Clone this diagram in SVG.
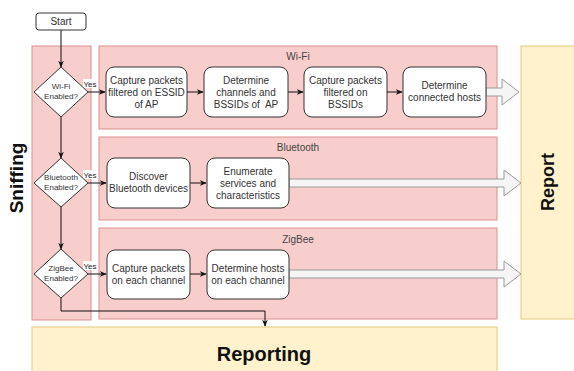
<svg xmlns="http://www.w3.org/2000/svg" width="574" height="371" viewBox="0 0 574 371">
  <style>
    text { font-family: "Liberation Sans", Arial, sans-serif; fill: #333; }
    .lane { fill: #f8cecc; stroke: #d98f8c; stroke-width: 1; }
    .yellow { fill: #fff2cc; stroke: #e6c979; stroke-width: 1; }
    .box { fill: #fff; stroke: #333; stroke-width: 1; }
    .box-text { font-size: 10px; text-anchor: middle; white-space: pre; }
    .dec { fill: #fff; stroke: #333; stroke-width: 1; }
    .dec-text { font-size: 8px; text-anchor: middle; }
    .lane-title { font-size: 10px; text-anchor: middle; fill: #444; }
    .big { font-weight: bold; fill: #111; text-anchor: middle; }
    .flow { fill: none; stroke: #111; stroke-width: 1; marker-end: url(#arrow); }
    .fat { fill: #f5f5f5; stroke: #999; stroke-width: 1; }
    .yes { font-size: 8px; text-anchor: middle; fill: #222; }
  </style>
  <defs>
    <marker id="arrow" viewBox="0 0 10 10" refX="9" refY="5" markerWidth="7" markerHeight="7" markerUnits="userSpaceOnUse" orient="auto">
      <path d="M0,1 L10,5 L0,9 L3,5 Z" fill="#111"/>
    </marker>
  </defs>

  <!-- containers -->
  <g id="sniffing">
    <rect class="lane" x="32" y="46" width="59" height="274"/>
    <text class="big" font-size="19" transform="translate(23,178) rotate(-90)">Sniffing</text>
  </g>
  <g id="lane-wifi">
    <rect class="lane" x="99" y="46" width="398" height="83"/>
    <text class="lane-title" x="298" y="60">Wi-Fi</text>
  </g>
  <g id="lane-bluetooth">
    <rect class="lane" x="99" y="137" width="398" height="83"/>
    <text class="lane-title" x="298" y="151">Bluetooth</text>
  </g>
  <g id="lane-zigbee">
    <rect class="lane" x="99" y="228" width="398" height="91"/>
    <text class="lane-title" x="298" y="243">ZigBee</text>
  </g>
  <g id="report">
    <rect class="yellow" x="521" y="46" width="60" height="273"/>
    <text class="big" font-size="18" transform="translate(554,182) rotate(-90)">Report</text>
  </g>
  <g id="reporting">
    <rect class="yellow" x="32" y="327" width="465" height="50"/>
    <text class="big" font-size="20" x="264" y="361">Reporting</text>
  </g>

  <!-- connectors -->
  <g id="connectors">
    <path class="flow" d="M61,30 V67"/>
    <path class="flow" d="M61,117 V158"/>
    <path class="flow" d="M61,207 V249"/>
    <path class="flow" d="M61,298 V311 H265 V326"/>
    <path class="flow" d="M88,92 H105"/>
    <path class="flow" d="M88,183 H106"/>
    <path class="flow" d="M88,274 H106"/>
    <path class="flow" d="M187,92 H203"/>
    <path class="flow" d="M288,92 H303"/>
    <path class="flow" d="M387,92 H402"/>
    <path class="flow" d="M190,183 H206"/>
    <path class="flow" d="M190,274 H206"/>
    <rect x="83" y="79" width="14" height="9" fill="#fff"/>
    <text class="yes" x="90" y="87">Yes</text>
    <rect x="83" y="170" width="14" height="9" fill="#fff"/>
    <text class="yes" x="90" y="178">Yes</text>
    <rect x="83" y="261" width="14" height="9" fill="#fff"/>
    <text class="yes" x="90" y="269">Yes</text>
    <!-- outgoing block arrows -->
    <path class="fat" d="M486,88 H502 V79 L519,92 L502,105 V96 H486 Z"/>
    <path class="fat" d="M289,179 H504 V170 L521,183 L504,196 V187 H289 Z"/>
    <path class="fat" d="M289,270 H504 V261 L521,274 L504,287 V278 H289 Z"/>
  </g>

  <!-- nodes -->
  <g id="start">
    <rect class="box" x="36" y="13" width="50" height="17" rx="3"/>
    <text class="box-text" x="61" y="25">Start</text>
  </g>
  <g id="wifi-enabled">
    <path class="dec" d="M61,67 L88,92 L61,117 L34,92 Z"/>
    <text class="dec-text" x="61" y="89">Wi-Fi</text>
    <text class="dec-text" x="61" y="99">Enabled?</text>
  </g>
  <g id="bt-enabled">
    <path class="dec" d="M61,158 L88,183 L61,207 L34,183 Z"/>
    <text class="dec-text" x="61" y="180">Bluetooth</text>
    <text class="dec-text" x="61" y="190">Enabled?</text>
  </g>
  <g id="zb-enabled">
    <path class="dec" d="M61,249 L88,274 L61,298 L34,274 Z"/>
    <text class="dec-text" x="61" y="271">ZigBee</text>
    <text class="dec-text" x="61" y="281">Enabled?</text>
  </g>

  <g id="wifi-capture-essid">
    <rect class="box" x="106" y="67" width="81" height="50" rx="8"/>
    <text class="box-text" x="146.5" y="84">Capture packets</text>
    <text class="box-text" x="146.5" y="96">filtered on ESSID</text>
    <text class="box-text" x="146.5" y="108">of AP</text>
  </g>
  <g id="wifi-channels">
    <rect class="box" x="204" y="67" width="84" height="50" rx="8"/>
    <text class="box-text" x="246" y="84">Determine</text>
    <text class="box-text" x="246" y="96">channels and</text>
    <text class="box-text" x="246" y="108">BSSIDs of  AP</text>
  </g>
  <g id="wifi-capture-bssid">
    <rect class="box" x="304" y="67" width="83" height="50" rx="8"/>
    <text class="box-text" x="345.5" y="84">Capture packets</text>
    <text class="box-text" x="345.5" y="96">filtered on</text>
    <text class="box-text" x="345.5" y="108">BSSIDs</text>
  </g>
  <g id="wifi-hosts">
    <rect class="box" x="403" y="67" width="83" height="50" rx="8"/>
    <text class="box-text" x="444.5" y="89">Determine</text>
    <text class="box-text" x="444.5" y="101">connected hosts</text>
  </g>

  <g id="bt-discover">
    <rect class="box" x="107" y="158" width="83" height="50" rx="8"/>
    <text class="box-text" x="148.5" y="180">Discover</text>
    <text class="box-text" x="148.5" y="192">Bluetooth devices</text>
  </g>
  <g id="bt-enumerate">
    <rect class="box" x="207" y="158" width="82" height="50" rx="8"/>
    <text class="box-text" x="248" y="175">Enumerate</text>
    <text class="box-text" x="248" y="187">services and</text>
    <text class="box-text" x="248" y="199">characteristics</text>
  </g>

  <g id="zb-capture">
    <rect class="box" x="107" y="250" width="83" height="49" rx="8"/>
    <text class="box-text" x="148.5" y="272">Capture packets</text>
    <text class="box-text" x="148.5" y="284">on each channel</text>
  </g>
  <g id="zb-hosts">
    <rect class="box" x="207" y="250" width="82" height="49" rx="8"/>
    <text class="box-text" x="248" y="272">Determine hosts</text>
    <text class="box-text" x="248" y="284">on each channel</text>
  </g>
</svg>
